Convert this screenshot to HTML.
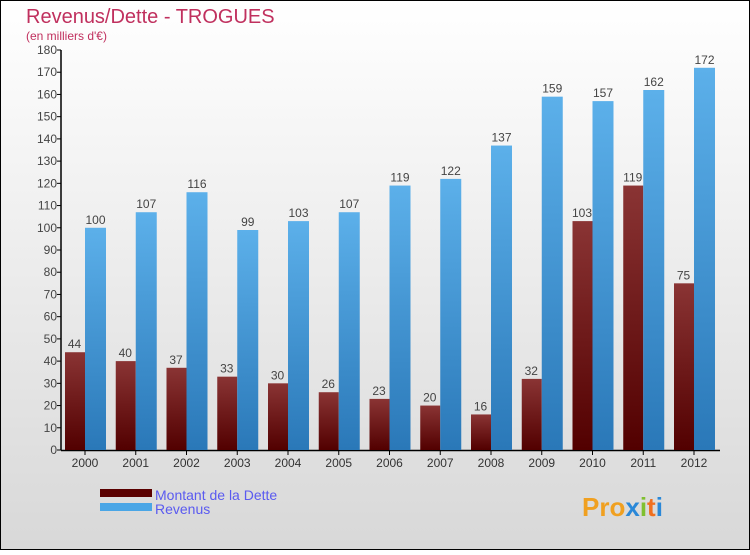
<!DOCTYPE html>
<html><head><meta charset="utf-8"><style>
body{margin:0}
svg text{font-family:"Liberation Sans",sans-serif}
</style></head><body>
<svg width="750" height="550" xmlns="http://www.w3.org/2000/svg">
<defs>
<linearGradient id="bg" x1="0" y1="0" x2="0" y2="1"><stop offset="0" stop-color="#ffffff"/><stop offset="1" stop-color="#d8d8d8"/></linearGradient>
<linearGradient id="gd" x1="0" y1="0" x2="0" y2="1"><stop offset="0" stop-color="#8a3434"/><stop offset="1" stop-color="#520000"/></linearGradient>
<linearGradient id="gr" x1="0" y1="0" x2="1" y2="0"><stop offset="0" stop-color="#4aa6e6"/><stop offset="1" stop-color="#5aaee8"/></linearGradient>
<linearGradient id="grv" x1="0" y1="0" x2="0" y2="1"><stop offset="0" stop-color="#5cb0ea"/><stop offset="1" stop-color="#2a78b8"/></linearGradient>
</defs>
<rect x="0.5" y="0.5" width="749" height="549" fill="url(#bg)" stroke="#000"/>
<text x="26" y="23" font-size="20" fill="#c0305e">Revenus/Dette - TROGUES</text>
<text x="26" y="40" font-size="12" fill="#c0305e">(en milliers d'€)</text>
<g id="axes"></g>
<g id="bars"></g>
<rect x="100" y="489" width="52" height="8" fill="#5a0000"/>
<text x="155" y="500" font-size="14" fill="#5a5af0">Montant de la Dette</text>
<rect x="100" y="503" width="52" height="8" fill="#4aa6e6"/>
<text x="155" y="514" font-size="14" fill="#5a5af0">Revenus</text>
<text x="582" y="516" font-size="26" font-weight="bold" fill="#f0a020">Pro<tspan fill="#2a88d8">x</tspan><tspan fill="#80c030">i</tspan><tspan fill="#f07020">t</tspan><tspan fill="#2a88d8">i</tspan></text>
</svg>
<script>
const years=["2000","2001","2002","2003","2004","2005","2006","2007","2008","2009","2010","2011","2012"];
const dette=[44,40,37,33,30,26,23,20,16,32,103,119,75];
const revenus=[100,107,116,99,103,107,119,122,137,159,157,162,172];
const yTicks=[0,10,20,30,40,50,60,70,80,90,100,110,120,130,140,150,160,170,180];
const NS="http://www.w3.org/2000/svg";
const y0=450,ppu=400/180,x0=85,step=50.75,bw=21;
const ys=v=>y0-v*ppu, xs=i=>x0+i*step;
function mk(tag,attrs,parent,txt){const e=document.createElementNS(NS,tag);for(const k in attrs)e.setAttribute(k,attrs[k]);if(txt!=null)e.textContent=txt;parent.appendChild(e);return e;}
const ax=document.getElementById('axes'),bg=document.getElementById('bars');
let l=mk('line',{x1:61,y1:50,x2:61,y2:450.5,stroke:'#000','stroke-width':1.5},ax);


l=mk('line',{x1:61,y1:450.5,x2:720,y2:450.5,stroke:'#000','stroke-width':1.5},ax);


yTicks.forEach(t=>{
 const y=ys(t);
 mk('line',{x1:57,y1:y,x2:61,y2:y,stroke:'#000'},ax);
 const tx=mk('text',{x:57,y:y+4,'font-size':12,'text-anchor':'end',fill:'#444'},ax,t);
 
 
});
years.forEach((yr,i)=>{
 const x=xs(i);
 mk('line',{x1:x,y1:450,x2:x,y2:455,stroke:'#000'},ax);
 const tx=mk('text',{x:x,y:467,'font-size':12,'text-anchor':'middle',fill:'#333'},ax,yr);
 
 
 const d=mk('rect',{x:x-bw+1,y:ys(dette[i]),width:bw-1,height:dette[i]*ppu,fill:'url(#gd)'},bg);
 
 
 const r=mk('rect',{x:x,y:ys(revenus[i]),width:bw,height:revenus[i]*ppu,fill:'url(#grv)'},bg);
 
 
 const ld=mk('text',{x:x-bw/2,y:ys(dette[i])-4,'font-size':12,'text-anchor':'middle',fill:'#444'},bg,dette[i]);
 
 
 const lr=mk('text',{x:x+bw/2,y:ys(revenus[i])-4,'font-size':12,'text-anchor':'middle',fill:'#444'},bg,revenus[i]);
 
 
});
</script>
</body></html>
